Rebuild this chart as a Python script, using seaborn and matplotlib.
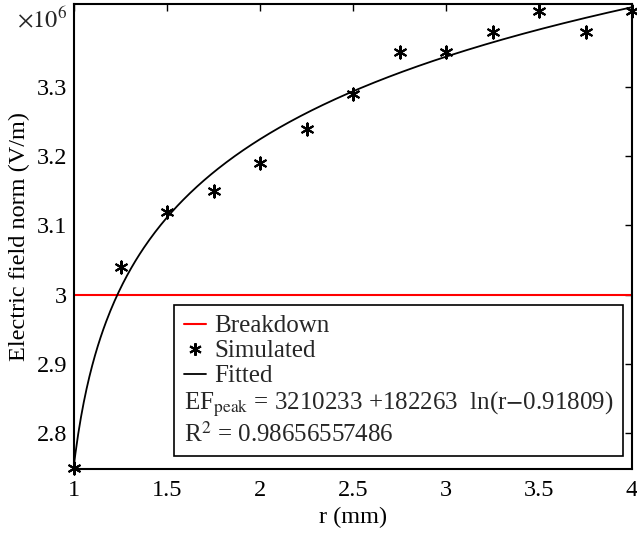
import numpy as np
import pandas as pd
import matplotlib
matplotlib.use("Agg")
import matplotlib.pyplot as plt
import seaborn as sns
from matplotlib.lines import Line2D
from matplotlib.ticker import FormatStrFormatter

# ---- data ----
r_sim = [1.0, 1.25, 1.5, 1.75, 2.0, 2.25, 2.5, 2.75, 3.0, 3.25, 3.5, 3.75, 4.0]
ef_sim = [2.75, 3.04, 3.12, 3.15, 3.19, 3.24, 3.29, 3.35, 3.35, 3.38, 3.41, 3.38, 3.41]  # x10^6 V/m
breakdown_level = 3.0
fit_a, fit_b, fit_c = 3210233, 182263, 0.91809
r_fit_range = [1.0, 4.0]
x_ticks = [1, 1.5, 2, 2.5, 3, 3.5, 4]
y_ticks = [2.8, 2.9, 3.0, 3.1, 3.2, 3.3]

sns.set_theme(style="white")
plt.rcParams['font.family'] = ['Liberation Serif', 'DejaVu Serif']
plt.rcParams['mathtext.fontset'] = 'stix'

FS = 17.5
LFS = 18

fig = plt.figure(figsize=(6.37, 5.33), dpi=100)
ax = fig.add_axes([74/637, 1 - 469/533, (632-74)/637, (469-4)/533])

r_fit = np.linspace(r_fit_range[0], r_fit_range[1], 400)
ef_fit = (fit_a + fit_b * np.log(r_fit - fit_c)) / 1e6
df_fit = pd.DataFrame({"r": r_fit, "ef": ef_fit})
df_sim = pd.DataFrame({"r": r_sim, "ef": ef_sim})

ax.axhline(breakdown_level, color='red', lw=1.5, zorder=2)
sns.lineplot(data=df_fit, x="r", y="ef", color='black', lw=1.3, ax=ax, zorder=3)
sns.scatterplot(data=df_sim, x="r", y="ef", marker=(6, 2, 0), s=75, color='black',
                edgecolor='black', linewidth=1.5, ax=ax, zorder=4, clip_on=False)

ax.set_xlim(1, 4)
ax.set_ylim(2.748, 3.42)
ax.set_xticks(x_ticks)
ax.set_yticks(y_ticks)
ax.yaxis.set_major_formatter(FormatStrFormatter('%g'))
ax.xaxis.set_major_formatter(FormatStrFormatter('%g'))
ax.tick_params(direction='in', length=5, width=1, top=True, right=True,
               labelsize=FS, colors='black')
ax.tick_params(axis='x', pad=8)
ax.tick_params(axis='y', pad=5)
for s in ax.spines.values():
    s.set_color('black')
    s.set_linewidth(1.5)
ax.set_xlabel("r (mm)", fontsize=FS, color='black', labelpad=4)
ax.set_ylabel("Electric field norm (V/m)", fontsize=FS, color='black', labelpad=5)
fig.text(17/637, 1 - 20/533, r"$\times10^{6}$", fontsize=FS, ha='left', va='center')

handles = [
    Line2D([], [], color='red', lw=1.5),
    Line2D([], [], color='black', marker=(6, 2, 0), ms=9, mew=1.5, ls='none'),
    Line2D([], [], color='black', lw=1.3),
    Line2D([], [], color='none'),
    Line2D([], [], color='none'),
]
labels = ["Breakdown", "Simulated", "Fitted",
          r"EF$_{\rm peak}$ = 3210233 +182263  ln(r$-$0.91809)",
          r"R$^{2}$ = 0.98656557486"]
leg = ax.legend(handles, labels, loc='lower right', bbox_to_anchor=(0.9835, 0.028),
                fontsize=LFS, frameon=True, fancybox=False, edgecolor='black',
                framealpha=1, handlelength=0.9, handletextpad=0.3, labelspacing=0.1,
                borderpad=0.38, borderaxespad=0)
leg.get_frame().set_linewidth(1.2)
# remove handle space for the equation lines
col = leg._legend_handle_box.get_children()[0]
rows = col.get_children()
for hp in rows[3:]:
    hp.get_children()[0].width = 0
    hp.sep = 0

fig.savefig("out.png", dpi=100)
